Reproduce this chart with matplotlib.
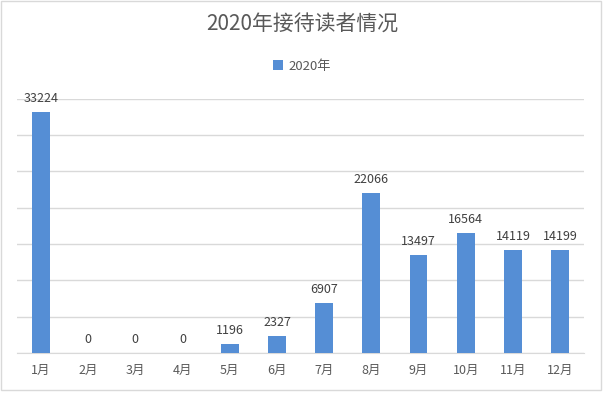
import matplotlib.pyplot as plt
from matplotlib.patches import Rectangle

plt.rcParams["font.family"] = ["Noto Sans CJK SC", "DejaVu Sans"]

months = ["1月", "2月", "3月", "4月", "5月", "6月", "7月", "8月", "9月", "10月", "11月", "12月"]
visitors = [33224, 0, 0, 0, 1196, 2327, 6907, 22066, 13497, 16564, 14119, 14199]
series_name = "2020年"
title = "2020年接待读者情况"

BAR_COLOR = "#558ED5"
GRID_COLOR = "#D9D9D9"
TEXT_COLOR = "#595959"

fig = plt.figure(figsize=(6.04, 3.93), dpi=100)
ax = fig.add_axes([0.0288, 0.1018, 0.9375, 0.647])

x = range(len(months))
ax.bar(x, visitors, width=0.38, color=BAR_COLOR, label=series_name, zorder=3)

# data labels above each bar
for xi, v in zip(x, visitors):
    ax.annotate(str(v), (xi, v), xytext=(0, 5), textcoords="offset points",
                ha="center", va="bottom", fontsize=9, color="#404040")

ax.set_xlim(-0.5, len(months) - 0.5)
ax.set_ylim(0, 35000)
ax.set_yticks(range(0, 35001, 5000))
ax.yaxis.grid(True, color=GRID_COLOR, linewidth=1, zorder=0)
ax.tick_params(axis="y", left=False, labelleft=False)
ax.tick_params(axis="x", length=0, pad=8, labelsize=9, labelcolor=TEXT_COLOR)
ax.set_xticks(list(x))
ax.set_xticklabels(months)
for side in ["top", "right", "left"]:
    ax.spines[side].set_visible(False)
ax.spines["bottom"].set_color(GRID_COLOR)

fig.text(0.5, 0.937, title, ha="center", va="center", fontsize=15, color=TEXT_COLOR)
fig.legend(loc="center", bbox_to_anchor=(0.5, 0.832), frameon=False, fontsize=9.5,
           handlelength=0.7, handleheight=0.7, handletextpad=0.4, labelcolor=TEXT_COLOR)

# outer chart border
fig.patches.append(Rectangle((0.002, 0.008), 0.993, 0.99, transform=fig.transFigure,
                             fill=False, edgecolor=GRID_COLOR, linewidth=1))

fig.savefig("out.png", dpi=100)
